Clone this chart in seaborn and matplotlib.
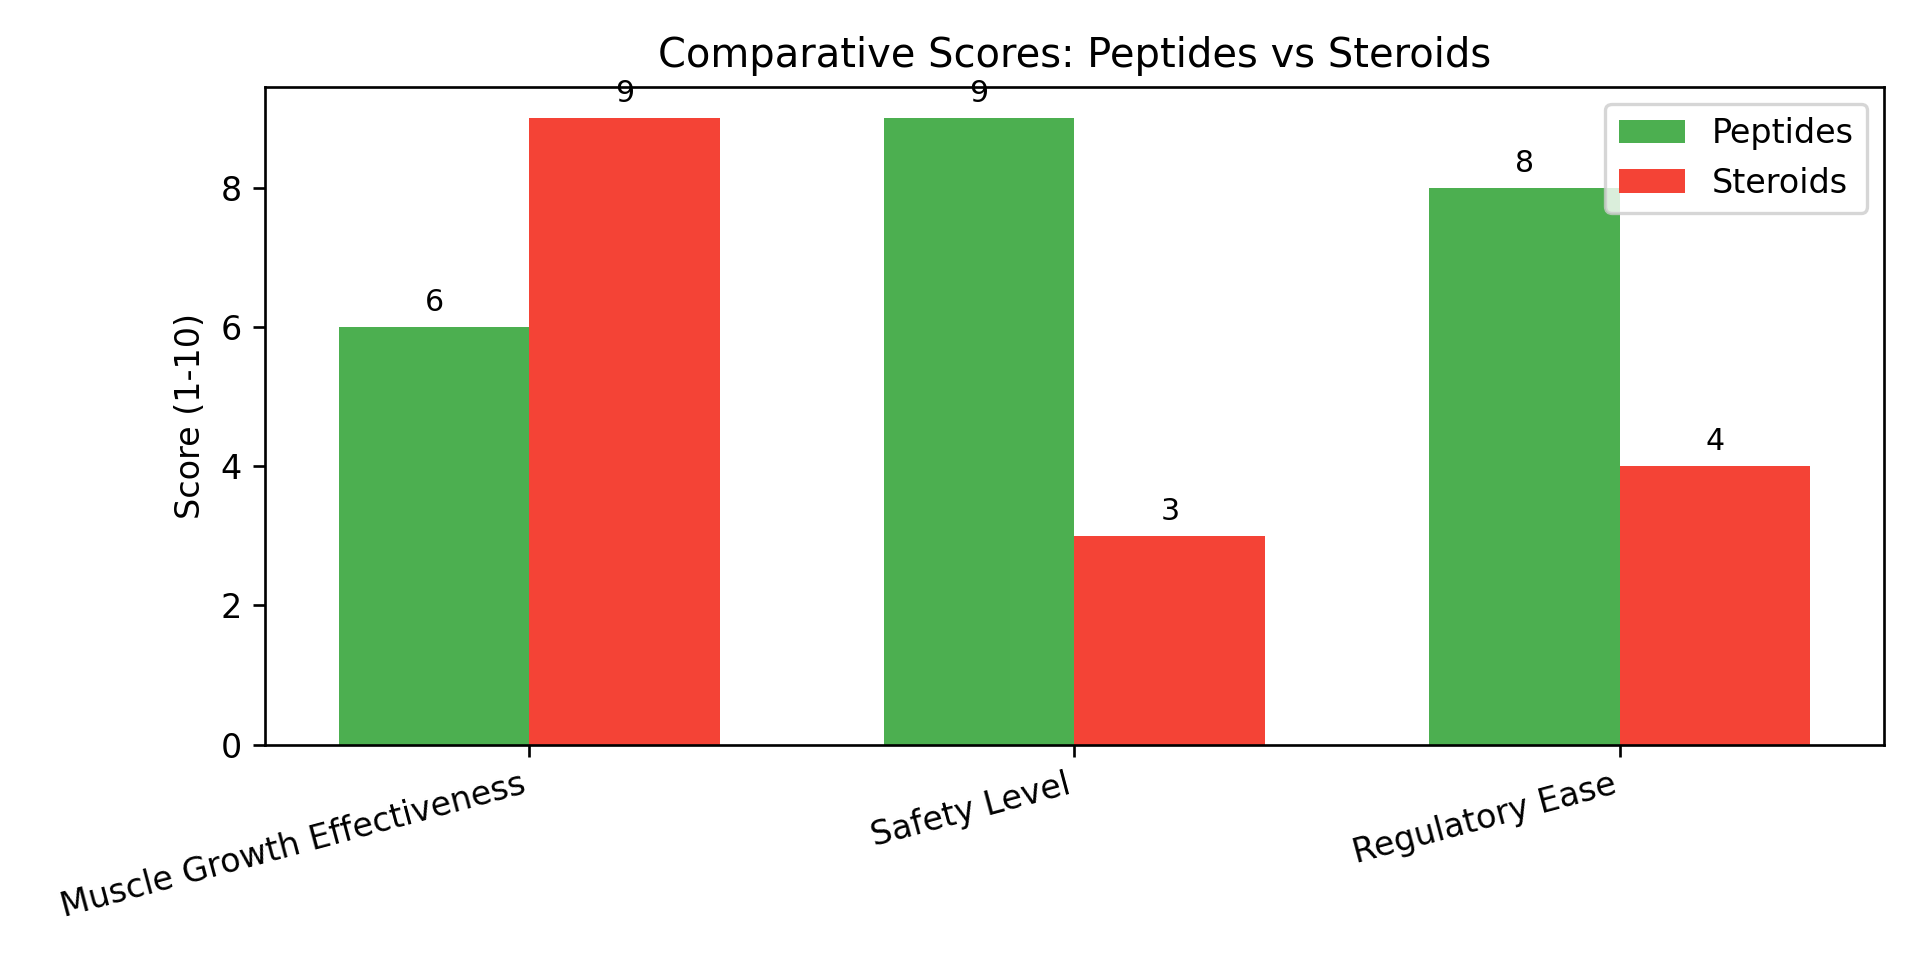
import matplotlib
matplotlib.use("Agg")
import matplotlib.pyplot as plt
import seaborn as sns
import pandas as pd

categories = ["Muscle Growth Effectiveness", "Safety Level", "Regulatory Ease"]
peptides = [6, 9, 8]
steroids = [9, 3, 4]
series_names = ["Peptides", "Steroids"]
colors = ["#4CAF50", "#F44336"]

df = pd.DataFrame({
    "Category": categories * 2,
    "Score": peptides + steroids,
    "Group": [series_names[0]] * 3 + [series_names[1]] * 3,
})

fig, ax = plt.subplots(figsize=(8, 4), dpi=240)
sns.barplot(data=df, x="Category", y="Score", hue="Group", order=categories,
            hue_order=series_names, palette=colors, saturation=1, width=0.7,
            linewidth=0, ax=ax)

for cont in ax.containers:
    ax.bar_label(cont, padding=3, fontsize=9)

ax.set_xlim(-0.485, 2.485)
ax.set_ylim(0, 9.45)
ax.set_title("Comparative Scores: Peptides vs Steroids", fontsize=12)
ax.set_ylabel("Score (1-10)")
ax.set_xlabel("")
ax.set_xticks(range(len(categories)))
ax.set_xticklabels(categories, rotation=15, ha="right")
ax.legend(loc="upper right", title=None)

fig.tight_layout()
fig.savefig("out.png", dpi=240)
